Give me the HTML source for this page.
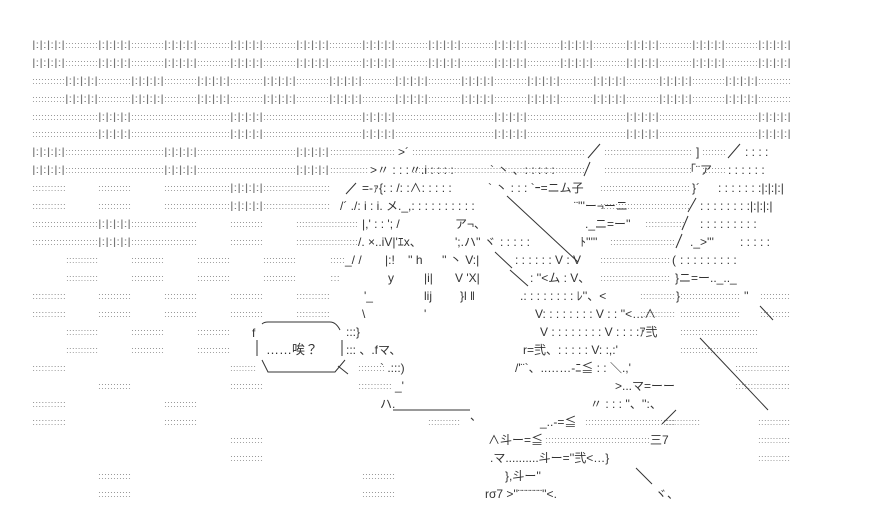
<!DOCTYPE html>
<html><head><meta charset="utf-8">
<style>
html,body{margin:0;padding:0;background:#fff;width:887px;height:532px;overflow:hidden}
svg{position:absolute;left:0;top:0}
.d{fill:#999;font-size:9px;font-family:"Liberation Sans",sans-serif}
.b{fill:#777;font-size:10px;font-family:"Liberation Sans",sans-serif}
.a{fill:#333;font-size:12px;font-family:"Liberation Sans","Noto Sans CJK JP",sans-serif}
line{stroke:#333;stroke-width:1}
</style></head><body>
<svg id="s" width="887" height="532" xmlns="http://www.w3.org/2000/svg">
<g id="bg"></g>
<g>
<!-- art -->
<text class="a" x="398" y="156">&gt;´</text>
<line x1="600" y1="144" x2="588" y2="158"/>
<text class="a" x="696" y="156">]</text>
<line x1="740" y1="144" x2="728" y2="158"/>
<text class="a" x="745" y="156" class="d">: : : :</text>
<text class="a" x="370" y="174">&gt;〃 : : :〃.i : : : :</text>
<text class="a" x="490" y="174">`  丶 、: : : : :</text>
<line x1="590" y1="162" x2="584" y2="176"/>
<text class="a" x="690" y="174">｢¨ア</text>
<text class="a" x="728" y="174">: : : : : :</text>
<line x1="356" y1="183" x2="346" y2="194"/>
<text class="a" x="362" y="192">=-ｧ{: : /: :∧: : : : :</text>
<text class="a" x="488" y="192">` 丶 : : :  `ｰ=ニム子</text>
<text class="a" x="692" y="192">}´</text>
<text class="a" x="718" y="192">: : : : : : :|:|:|:|</text>
<text class="a" x="340" y="210">/´  ./: i : i. メ._,: : : : : : : : : :</text>
<text class="a" x="574" y="210">¨'''ー¬ーニ</text>
<line x1="696" y1="198" x2="688" y2="212"/>
<text class="a" x="700" y="210">: : : : : : : :|:|:|:|</text>
<line x1="507" y1="196" x2="578" y2="262"/>
<text class="a" x="362" y="228">|,' : : ';  /</text>
<text class="a" x="455" y="228">ア¬、</text>
<text class="a" x="585" y="228">._ニ=ー''</text>
<line x1="688" y1="216" x2="682" y2="230"/>
<text class="a" x="700" y="228">: : : : : : : : :</text>
<text class="a" x="358" y="246">/. ×..iV|'ｴx、</text>
<text class="a" x="455" y="246">';.ハ'' ヾ</text>
<text class="a" x="500" y="246">: : : : :</text>
<text class="a" x="580" y="246">ﾄ'''''</text>
<line x1="682" y1="234" x2="676" y2="248"/>
<text class="a" x="690" y="246">._&gt;'''</text>
<text class="a" x="740" y="246">: : : : :</text>
<text class="a" x="345" y="264">_/ /</text>
<text class="a" x="385" y="264">|:!</text>
<text class="a" x="408" y="264">'' h</text>
<text class="a" x="442" y="264">'' 丶 V:|</text>
<line x1="495" y1="252" x2="512" y2="268"/>
<text class="a" x="515" y="264">: : : : : : V : V</text>
<text class="a" x="672" y="264">(</text>
<text class="a" x="680" y="264">: : : : : : : : :</text>
<text class="a" x="388" y="282">y</text>
<text class="a" x="424" y="282">|i|</text>
<text class="a" x="455" y="282">V 'X|</text>
<line x1="510" y1="270" x2="528" y2="286"/>
<text class="a" x="530" y="282">: ''&lt;ム : V、</text>
<text class="a" x="675" y="282">}ニ=ー.._.._</text>
<text class="a" x="364" y="300">'_</text>
<text class="a" x="424" y="300">lij</text>
<text class="a" x="460" y="300">}l   ‖</text>
<text class="a" x="520" y="300">.: : : : : : : : ﾚ''、&lt;</text>
<text class="a" x="676" y="300">}</text>
<text class="a" x="744" y="300">''</text>
<text class="a" x="362" y="318">\</text>
<text class="a" x="424" y="318">'</text>
<text class="a" x="535" y="318">V: : : : : : : : V : : ''&lt;…∧</text>
<line x1="760" y1="306" x2="773" y2="320"/>
<line x1="700" y1="338" x2="768" y2="410"/>
<text class="a" x="540" y="336">V : : : : : : : : V : : : :ｱ弐</text>
<text class="a" x="523" y="354">r=弐、: : : : :   V: :,:'</text>
<text class="a" x="515" y="372">/'¨`、..……-ﾆ≦ : :  ＼.,'</text>
<text class="a" x="615" y="390">&gt;...マ=ーー</text>
<text class="a" x="590" y="408">〃 : : :  ''、'':、</text>
<line x1="676" y1="410" x2="662" y2="424"/>
<text class="a" x="540" y="426">_..-=≦</text>
<text class="a" x="488" y="444">∧斗ー=≦</text>
<text class="a" x="650" y="444">三7</text>
<text class="a" x="490" y="462">.マ..........斗ー=''弐&lt;…}</text>
<text class="a" x="505" y="480">},斗ー''</text>
<line x1="636" y1="468" x2="652" y2="484"/>
<text class="a" x="508" y="480"></text>
<text class="a" x="485" y="498">rσ7 &gt;''¨¨¨¨¨¨''&lt;.</text>
<text class="a" x="655" y="498">ヾ、</text>
<!-- bubble -->
<text class="a" x="252" y="337">f</text>
<path d="M262,324 Q264,322 268,322 L330,322 Q336,322 340,330 M257,340 L257,356 M342,340 L342,356 M262,360 L268,372 L335,372 L345,360 M338,366 L348,374" fill="none" stroke="#333"/>
<text class="a" x="266" y="354" style="font-size:13px">……唉？</text>
<text class="a" x="346" y="336">:::}</text>
<text class="a" x="346" y="354">::: 、.fマ、</text>
<text class="a" x="380" y="372">` .:::)</text>
<text class="a" x="395" y="390">_'</text>
<text class="a" x="380" y="408">ハ.</text>
<line x1="393" y1="410" x2="470" y2="410"/>
<text class="a" x="470" y="420">、</text>
</g>
</svg>
<script>
var g=document.getElementById('bg'),NS='http://www.w3.org/2000/svg';
function T(cls,x1,x2,y,s){var t=document.createElementNS(NS,'text');t.setAttribute('class',cls);t.setAttribute('x',x1);t.setAttribute('y',y);t.setAttribute('textLength',x2-x1);t.setAttribute('lengthAdjust','spacingAndGlyphs');t.textContent=s;g.appendChild(t);}
function D(x1,x2,y){var n=Math.max(2,Math.round((x2-x1)/3));T('d',x1,x2,y,new Array(n+1).join(':'));}
function B(x,y){T('b',x,x+33,y,'|:|:|:|:|');}
function row(y,list){list.forEach(function(s){if(s[0]=='B')B(s[1],y);else D(s[1],s[2],y);});}
var X=function(k){return 32+33*k;};
[48,66].forEach(function(y){for(var k=0;k<23;k++){if(k%2==0)B(X(k),y);else D(X(k),X(k+1),y);}});
[84,102].forEach(function(y){for(var k=0;k<23;k++){if(k%2==1)B(X(k),y);else D(X(k),X(k+1),y);}});
[120,137].forEach(function(y){for(var k=0;k<23;k++){if(k%4==2)B(X(k),y);else D(X(k),X(k+1),y);}});
[155,173].forEach(function(y){for(var k=0;k<9;k++){if(k%4==0)B(X(k),y);else D(X(k),X(k+1),y);} D(330,y==155?395:368,y);D(412,585,y);D(604,692,y);D(702,726,y);});
[191,209].forEach(function(y){D(32,66,y);D(98,131,y);D(164,230,y);B(230,y);D(263,330,y);D(600,690,y);});
row(227,[['D',32,98],['B',98],['D',131,197],['D',230,263],['D',296,358],['D',645,685]]);
row(245,[['D',32,98],['B',98],['D',131,197],['D',230,263],['D',296,358],['D',610,675]]);
[263,281].forEach(function(y){D(66,98,y);D(131,164,y);D(197,230,y);D(263,296,y);D(330,y==263?345:340,y);D(600,670,y);});
[299,317].forEach(function(y){D(32,66,y);D(98,131,y);D(164,197,y);D(230,263,y);D(296,330,y);D(640,675,y);D(680,740,y);D(760,790,y);});
[335,353].forEach(function(y){D(66,98,y);D(131,164,y);D(197,230,y);D(680,758,y);});
row(371,[['D',32,66],['D',230,256],['D',358,385],['D',735,790]]);
row(389,[['D',98,131],['D',230,263],['D',358,392],['D',735,790]]);
[407,425].forEach(function(y){D(32,66,y);D(164,197,y);});
row(425,[['D',428,460],['D',585,675],['D',665,700],['D',758,790]]);
row(443,[['D',230,263],['D',545,650],['D',758,790]]);
row(461,[['D',230,263],['D',758,790]]);
[479,497].forEach(function(y){D(98,131,y);D(362,395,y);});
</script>
</body></html>
